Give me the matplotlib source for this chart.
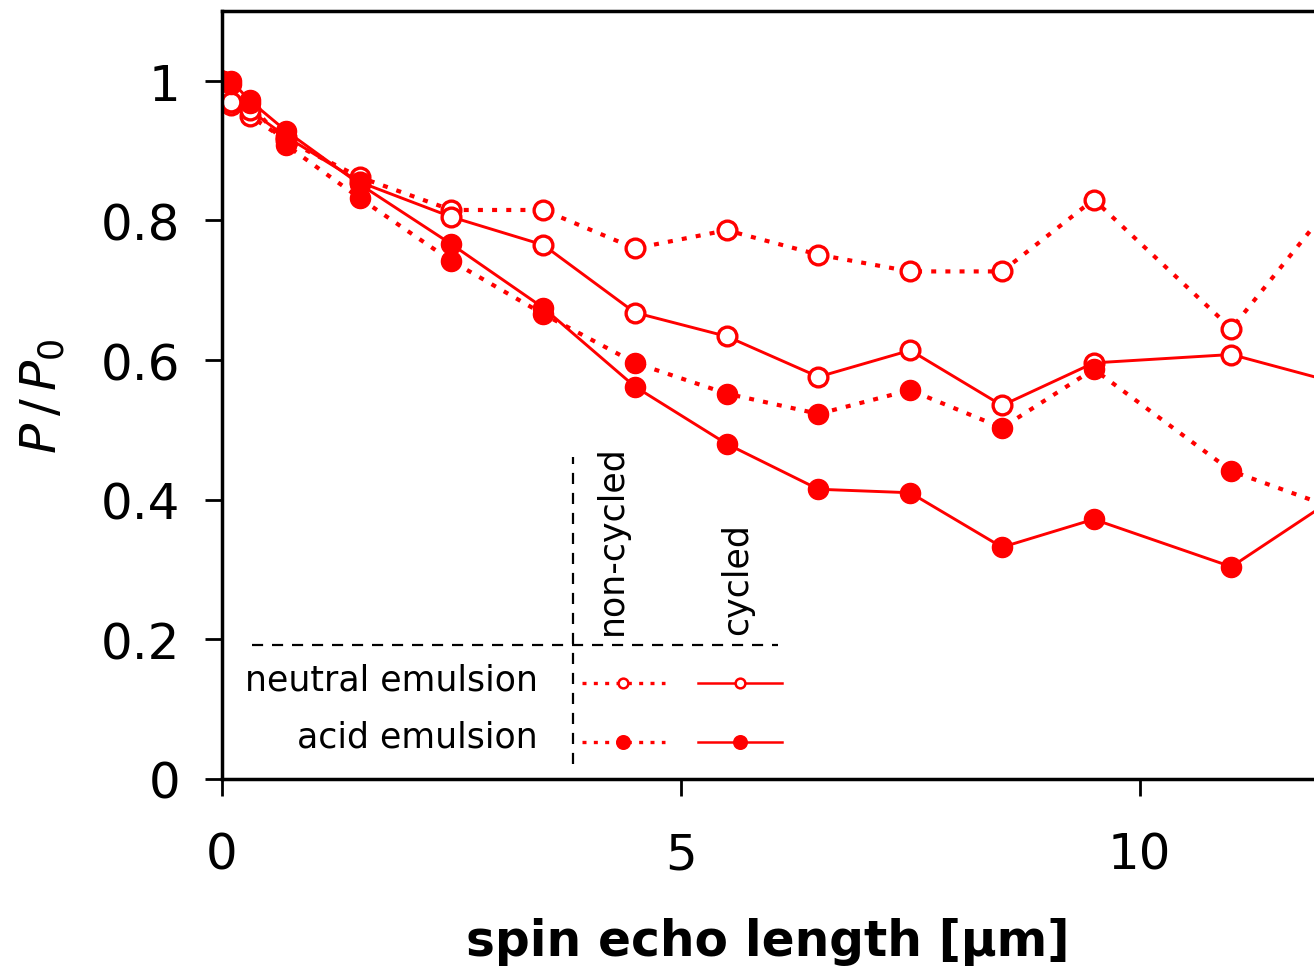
import matplotlib
matplotlib.use("Agg")
import matplotlib.pyplot as plt
import numpy as np

# spin echo length [um]
x = [0, 0.1, 0.3, 0.7, 1.5, 2.5, 3.5, 4.5, 5.5, 6.5, 7.5, 8.5, 9.5, 11.0, 12.5]

neutral_noncycled = [1.0, 0.965, 0.95, 0.915, 0.862, 0.815, 0.815, 0.76, 0.786, 0.751, 0.727, 0.727, 0.83, 0.645, 0.89]
neutral_cycled = [1.0, 0.97, 0.958, 0.92, 0.855, 0.805, 0.765, 0.668, 0.634, 0.576, 0.614, 0.535, 0.596, 0.608, 0.555]
acid_noncycled = [1.0, 0.995, 0.968, 0.908, 0.832, 0.742, 0.666, 0.596, 0.552, 0.523, 0.557, 0.503, 0.587, 0.441, 0.37]
acid_cycled = [1.0, 1.0, 0.972, 0.928, 0.852, 0.766, 0.675, 0.562, 0.48, 0.415, 0.41, 0.332, 0.372, 0.304, 0.435]

red = "#ff0000"
dot = (1.2, 2.2)

fig = plt.figure(figsize=(13.14, 9.78), dpi=100)
ax = fig.add_axes([222/1314, 198/978, 1092/1314, 768/978])

ax.plot(x, neutral_noncycled, color=red, lw=3.0, dashes=dot, marker="o", ms=13.5,
        mfc="white", mec=red, mew=2.4)
ax.plot(x, neutral_cycled, color=red, lw=2.1, marker="o", ms=13.5,
        mfc="white", mec=red, mew=2.4)
ax.plot(x, acid_noncycled, color=red, lw=3.0, dashes=dot, marker="o", ms=14.5,
        mfc=red, mec=red)
ax.plot(x, acid_cycled, color=red, lw=2.1, marker="o", ms=14.5,
        mfc=red, mec=red)

ax.set_xlim(0, 11.9)
ax.set_ylim(0, 1.1)
ax.set_xticks([0, 5, 10])
ax.set_yticks([0, 0.2, 0.4, 0.6, 0.8, 1.0])
ax.set_yticklabels(["0", "0.2", "0.4", "0.6", "0.8", "1"])
ax.tick_params(direction="out", length=12, width=2, labelsize=36)
ax.tick_params(axis="x", pad=25)
ax.tick_params(axis="y", pad=18)
for s in ["left", "bottom", "top"]:
    ax.spines[s].set_linewidth(2.5)
ax.spines["right"].set_visible(False)

ax.set_xlabel("spin echo length [µm]", fontsize=35, fontweight="bold", labelpad=28)
ax.set_ylabel(r"$P\,/\,P_0$", fontsize=36, labelpad=24)

# table-like legend
tr = ax.transAxes
ax.plot([0.0275, 0.509], [0.1745, 0.1745], transform=tr, color="black", lw=1.6,
        dashes=(5, 4), clip_on=False)
ax.plot([0.3214, 0.3214], [0.0195, 0.419], transform=tr, color="black", lw=1.6,
        dashes=(5, 4), clip_on=False)
ax.text(0.357, 0.189, "non-cycled", transform=tr, rotation=90, ha="center",
        va="bottom", fontsize=25)
ax.text(0.4716, 0.189, "cycled", transform=tr, rotation=90, ha="center",
        va="bottom", fontsize=25)
ax.text(0.2894, 0.130, "neutral emulsion", transform=tr, ha="right",
        va="center", fontsize=25)
ax.text(0.2894, 0.0547, "acid emulsion", transform=tr, ha="right",
        va="center", fontsize=25)
for yy, filled in [(0.125, False), (0.048, True)]:
    fc = red if filled else "white"
    ax.plot([0.3297, 0.4057], [yy, yy], transform=tr, color=red, lw=2.4,
            dashes=(1.2, 2.2))
    ax.plot([0.3672], [yy], transform=tr, marker="o", ms=9 if filled else 7,
            mfc=fc, mec=red, mew=1.8)
    ax.plot([0.4359, 0.5128], [yy, yy], transform=tr, color=red, lw=1.8)
    ax.plot([0.4744], [yy], transform=tr, marker="o", ms=9 if filled else 7,
            mfc=fc, mec=red, mew=1.8)

fig.savefig("out.png", dpi=100)
